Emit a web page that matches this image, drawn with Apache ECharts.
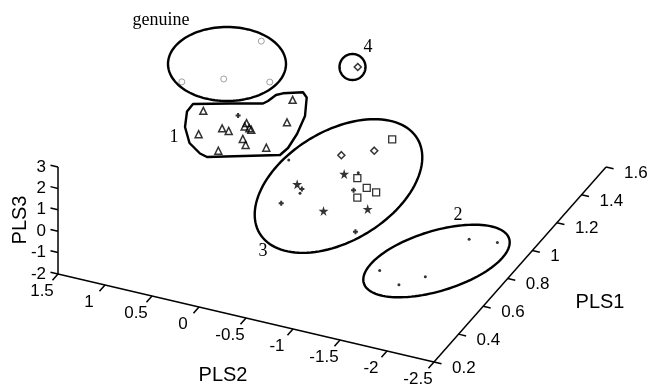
<!DOCTYPE html>
<html>
<head>
<meta charset="utf-8">
<script src="https://cdn.jsdelivr.net/npm/echarts@6/dist/echarts.min.js"></script>
<style>html,body{margin:0;padding:0;background:#fff}#c{width:651px;height:388px}</style>
</head>
<body>
<div id="c"></div>
<script>
// ---- axis ticks ----
const pls1Ticks = [0.2, 0.4, 0.6, 0.8, 1, 1.2, 1.4, 1.6];
const pls2Ticks = [1.5, 1, 0.5, 0, -0.5, -1, -1.5, -2, -2.5];
const pls3Ticks = [-2, -1, 0, 1, 2, 3];
const axisTitles = ['PLS1', 'PLS2', 'PLS3'];

// ---- samples: [PLS1, PLS2, PLS3] (estimated) ----
const genuine = [[1.25, 0.71, 2.86], [1.2, 1.49, 0.48], [1.25, 1.11, 0.68], [1.25, 0.62, 1.04]];
const triangleSamples = [
  [1.0, 0.05, 2.42], [1.0, 1.0, 0.93], [1.0, 0.11, 1.31], [1.0, 0.54, 0.83], [1.0, 0.56, 0.65],
  [1.0, 0.51, 0.62], [1.0, 0.49, 0.57], [1.0, 0.80, 0.32], [1.0, 0.73, 0.27], [1.0, 1.05, -0.21],
  [1.0, 0.58, 0.05], [1.0, 0.55, -0.20], [1.0, 0.33, -0.10], [1.0, 0.84, -0.77]
];
const starSamples = [[0.8, -0.76, 1.09], [0.8, -0.26, 0.10], [0.8, -0.54, -0.86], [0.8, -1.01, -0.29]];
const squareSamples = [[0.9, -1.14, 2.45], [0.8, -0.90, 1.04], [0.8, -1.00, 0.69], [0.8, -1.10, 0.58], [0.8, -0.90, 0.13]];
const diamondSamples = [[0.8, -0.73, 1.94], [0.8, -1.08, 2.51], [1.4, -0.12, 1.53]];
const plusSamples = [[1.0, 0.63, 1.09], [0.8, -0.86, 0.43], [0.8, -0.31, -0.07], [0.8, -0.09, -0.97], [0.8, -0.88, -1.48]];
const dotSamples = [
  [0.8, -0.17, 1.14], [0.8, -0.91, 1.30], [0.8, -0.29, -0.29],
  [0.7, -2.22, 0.19], [0.8, -2.39, -0.44], [0.5, -1.53, -0.68], [0.55, -1.95, -0.86], [0.45, -1.80, -0.74]
];

// ---- group annotations (in view-plane units) ----
const groupLabels = [['genuine', 161, 20], ['1', 174, 137], ['2', 458, 215], ['3', 263, 251], ['4', 368, 47]];
const groupEllipses = [[227, 64, 59, 37, 0], [352.5, 67, 13, 13, 0], [338.5, 186, 92, 55, 31], [436.5, 261, 76, 30, 17]];
const group1Outline = [
  [193, 104], [230, 103.5], [263, 103.5], [268, 101], [276, 95], [283, 93.3], [303, 92.3], [306.7, 97.5], [305, 116],
  [297, 134], [288, 148], [280, 155], [207, 157], [200, 153.5], [189.5, 143], [185, 127], [187, 111.5]
];

// ---- view (camera) projection ----
const P1MIN = Math.min(...pls1Ticks), P1MAX = Math.max(...pls1Ticks);
const P2MIN = Math.min(...pls2Ticks), P2MAX = Math.max(...pls2Ticks);
const P3MIN = Math.min(...pls3Ticks), P3MAX = Math.max(...pls3Ticks);
const ORIGIN = [58, 274];
const E1 = [122.9, -139.3], E2 = [-94, -22], E3 = [0, -21.4];
function proj(p) {
  const a = p[0] - P1MIN, b = p[1] - P2MAX, c = p[2] - P3MIN;
  return [ORIGIN[0] + E1[0] * a + E2[0] * b + E3[0] * c,
          ORIGIN[1] + E1[1] * a + E2[1] * b + E3[1] * c];
}

const SANS = '"Liberation Sans", Arial, sans-serif';
const SERIF = '"Liberation Serif", "Times New Roman", serif';

function renderAxes(params, api) {
  const ch = [];
  const L = (a, b) => {
    const A = api.coord(proj(a)), B = api.coord(proj(b));
    ch.push({ type: 'line', shape: { x1: A[0], y1: A[1], x2: B[0], y2: B[1] }, style: { stroke: '#000', lineWidth: 1.5 } });
  };
  const T = (p, txt, dx, dy, align) => {
    const A = api.coord(proj(p));
    ch.push({ type: 'text', style: { text: txt, x: A[0] + dx, y: A[1] + dy, align: align, verticalAlign: 'middle',
      textAlign: align, textVerticalAlign: 'middle', fontSize: 17, fontFamily: SANS, fill: '#000' } });
  };
  L([P1MIN, P2MAX, P3MIN], [P1MIN, P2MIN, P3MIN]);
  L([P1MIN, P2MIN, P3MIN], [P1MAX, P2MIN, P3MIN]);
  L([P1MIN, P2MAX, P3MIN], [P1MIN, P2MAX, P3MAX]);
  pls2Ticks.forEach(t => { L([P1MIN, t, P3MIN], [P1MIN - 0.045, t, P3MIN]); T([P1MIN, t, P3MIN], String(t), -16, 17, 'center'); });
  pls1Ticks.forEach(t => { L([t, P2MIN, P3MIN], [t, P2MIN - 0.08, P3MIN]); T([t, P2MIN, P3MIN], String(t), 18, 6, 'left'); });
  pls3Ticks.forEach(t => { L([P1MIN, P2MAX, t], [P1MIN, P2MAX + 0.08, t]); T([P1MIN, P2MAX, t], String(t), -12, 0, 'right'); });
  return { type: 'group', children: ch };
}

function renderAnnotations(params, api) {
  const ch = [];
  groupEllipses.forEach(e => {
    const [cx, cy, rx, ry, deg] = e;
    const th = deg * Math.PI / 180;
    const pts = [];
    for (let i = 0; i < 120; i++) {
      const t = i / 120 * Math.PI * 2;
      const x = cx + rx * Math.cos(t) * Math.cos(th) - ry * Math.sin(t) * Math.sin(th);
      const y = cy - (rx * Math.cos(t) * Math.sin(th) + ry * Math.sin(t) * Math.cos(th));
      pts.push(api.coord([x, y]));
    }
    ch.push({ type: 'polygon', shape: { points: pts }, style: { fill: 'none', stroke: '#000', lineWidth: 2.4 } });
  });
  ch.push({ type: 'polygon', shape: { points: group1Outline.map(p => api.coord(p)) },
    style: { fill: 'none', stroke: '#000', lineWidth: 2.4, lineJoin: 'round' } });
  groupLabels.forEach(g => {
    const A = api.coord([g[1], g[2]]);
    ch.push({ type: 'text', style: { text: g[0], x: A[0], y: A[1], align: 'center', verticalAlign: 'middle',
      textAlign: 'center', textVerticalAlign: 'middle', fontSize: 18, fontFamily: SERIF, fill: '#000' } });
  });
  return { type: 'group', children: ch };
}

const STAR = 'path://M50,0 L61,35 L98,35 L68,57 L79,91 L50,70 L21,91 L32,57 L2,35 L39,35 Z';
const PLUS = 'path://M3,0 H7 V3 H10 V7 H7 V10 H3 V7 H0 V3 H3 Z';

function sc(name, data, symbol, size, style) {
  return { type: 'scatter', name: name, data: data.map(proj), symbol: symbol, symbolSize: size,
    itemStyle: style, silent: true, z: 5 };
}

const chart = echarts.init(document.getElementById('c'), null, { renderer: 'canvas' });
chart.setOption({
  animation: false,
  backgroundColor: '#fff',
  grid: { left: 0, right: 0, top: 0, bottom: 0, containLabel: false },
  xAxis: { type: 'value', min: 0, max: 651, show: false },
  yAxis: { type: 'value', min: 0, max: 388, inverse: true, show: false },
  graphic: [
    { type: 'text', x: 20, y: 220, rotation: Math.PI / 2, style: { text: axisTitles[2], fontSize: 20, fontFamily: SANS, fill: '#000', align: 'center', verticalAlign: 'middle' } },
    { type: 'text', x: 223, y: 375, style: { text: axisTitles[1], fontSize: 20, fontFamily: SANS, fill: '#000', align: 'center', verticalAlign: 'middle' } },
    { type: 'text', x: 600, y: 302, style: { text: axisTitles[0], fontSize: 20, fontFamily: SANS, fill: '#000', align: 'center', verticalAlign: 'middle' } }
  ],
  series: [
    { type: 'custom', name: 'axes', data: [[0, 0]], renderItem: renderAxes, silent: true, clip: false, z: 1 },
    { type: 'custom', name: 'groups', data: [[0, 0]], renderItem: renderAnnotations, silent: true, clip: false, z: 2 },
    sc('genuine', genuine, 'circle', 6, { color: 'none', borderColor: '#8a8a8a', borderWidth: 1 }),
    sc('triangle', triangleSamples, 'triangle', 7, { color: 'none', borderColor: '#000', borderWidth: 1.5 }),
    sc('star', starSamples, STAR, 10, { color: '#000' }),
    sc('square', squareSamples, 'rect', 7, { color: 'none', borderColor: '#000', borderWidth: 1.3 }),
    sc('diamond', diamondSamples, 'diamond', 7, { color: 'none', borderColor: '#000', borderWidth: 1.5 }),
    sc('plus', plusSamples, PLUS, 5, { color: '#000' }),
    sc('dot', dotSamples, 'circle', 3, { color: '#000' })
  ]
});
</script>
</body>
</html>
